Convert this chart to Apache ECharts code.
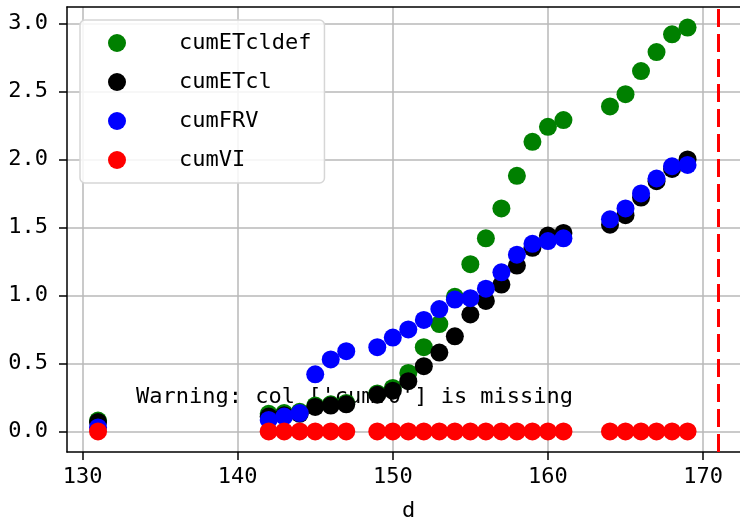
<!DOCTYPE html>
<html>
<head>
<meta charset="utf-8">
<script src="https://cdn.jsdelivr.net/npm/echarts@6/dist/echarts.min.js"></script>
<style>
    html, body {margin: 0; padding: 0; background: #fff; overflow: hidden;}
    #main {width: 740px; height: 523px;}
</style>
</head>
<body>
<div id="main"></div>
<script>
// 数据
const days = [131, 142, 143, 144, 145, 146, 147, 149, 150, 151, 152, 153, 154, 155, 156, 157, 158, 159, 160, 161, 164, 165, 166, 167, 168, 169];
const cumETcldef = [0.08, 0.13, 0.135, 0.145, 0.19, 0.2, 0.21, 0.28, 0.32, 0.43, 0.62, 0.79, 0.99, 1.23, 1.42, 1.64, 1.88, 2.13, 2.24, 2.29, 2.39, 2.48, 2.65, 2.79, 2.92, 2.97];
const cumETcl = [0.07, 0.11, 0.12, 0.13, 0.18, 0.19, 0.2, 0.27, 0.3, 0.37, 0.48, 0.58, 0.7, 0.86, 0.96, 1.08, 1.22, 1.35, 1.44, 1.46, 1.52, 1.59, 1.72, 1.84, 1.93, 2.0];
const cumFRV = [0.03, 0.085, 0.11, 0.135, 0.42, 0.53, 0.59, 0.62, 0.69, 0.75, 0.82, 0.9, 0.97, 0.98, 1.05, 1.17, 1.3, 1.38, 1.4, 1.42, 1.56, 1.64, 1.75, 1.86, 1.95, 1.96];
const cumVI = [0, 0, 0, 0, 0, 0, 0, 0, 0, 0, 0, 0, 0, 0, 0, 0, 0, 0, 0, 0, 0, 0, 0, 0, 0, 0];
const xTicks = [130, 140, 150, 160, 170];
const yTicks = [0, 0.5, 1.0, 1.5, 2.0, 2.5, 3.0];
const cutoffDay = 171;
const warningText = "Warning: col ['cumV0'] is missing";

const FONT = 'DejaVu Sans Mono';
const X_MIN = 129, X_MAX = 172.38;

const pairs = (ys) => days.map((d, i) => [d, ys[i]]);

const makeSeries = (name, ys, color) => ({
    name: name,
    type: 'scatter',
    symbolSize: 18,
    itemStyle: {color: color, opacity: 1},
    data: pairs(ys)
});

const seriesList = [
    makeSeries('cumETcldef', cumETcldef, '#008000'),
    makeSeries('cumETcl', cumETcl, '#000000'),
    makeSeries('cumFRV', cumFRV, '#0000ff'),
    makeSeries('cumVI', cumVI, '#ff0000')
];
// 红色竖虚线
seriesList[3].markLine = {
    silent: true, symbol: 'none', label: {show: false},
    lineStyle: {color: '#ff0000', type: [18, 7], width: 3},
    data: [{xAxis: cutoffDay}]
};

const chart = echarts.init(document.getElementById('main'));
chart.setOption({
    animation: false,
    // 警告文字放在点的下面
    title: {
        text: warningText, left: 131, top: 381, z: 1,
        textStyle: {fontFamily: FONT, fontSize: 22, fontWeight: 'normal', color: '#000'}
    },
    grid: {left: 67, top: 7, right: 0, bottom: 71, outerBoundsMode: 'none', show: false},
    legend: {
        orient: 'vertical', left: 80, top: 20,
        padding: [12, 13, 12, 28], itemWidth: 18, itemHeight: 18, itemGap: 17, icon: 'circle',
        backgroundColor: 'rgba(255,255,255,0.85)',
        borderColor: '#d6d6d6', borderWidth: 1.5, borderRadius: 5,
        textStyle: {fontFamily: FONT, fontSize: 22, color: '#000', padding: [0, 0, 0, 48]},
        data: ['cumETcldef', 'cumETcl', 'cumFRV', 'cumVI']
    },
    xAxis: [{
        type: 'value', min: X_MIN, max: X_MAX,
        name: 'd', nameLocation: 'middle', nameGap: 48,
        nameTextStyle: {fontFamily: FONT, fontSize: 22, color: '#000', padding: [0, 0, 0, 10]},
        axisLine: {onZero: false, lineStyle: {color: '#000', width: 1.5}},
        axisTick: {show: true, inside: false, length: 8, lineStyle: {color: '#000', width: 1.5}, customValues: xTicks},
        axisLabel: {fontFamily: FONT, fontSize: 22, color: '#000', margin: 14, customValues: xTicks},
        splitLine: {show: true, lineStyle: {color: '#b8b8b8', width: 1.5}}
    }, {
        // 上边框
        type: 'value', position: 'top', min: X_MIN, max: X_MAX,
        axisLine: {show: true, onZero: false, lineStyle: {color: '#000', width: 1.5}},
        axisTick: {show: false}, axisLabel: {show: false}, splitLine: {show: false}
    }],
    yAxis: {
        type: 'value', min: -0.151, max: 3.121,
        axisLine: {show: true, onZero: false, lineStyle: {color: '#000', width: 1.5}},
        axisTick: {show: true, inside: false, length: 8, lineStyle: {color: '#000', width: 1.5}, customValues: yTicks},
        axisLabel: {fontFamily: FONT, fontSize: 22, color: '#000', margin: 19, customValues: yTicks, formatter: v => v.toFixed(1)},
        splitLine: {show: true, lineStyle: {color: '#b8b8b8', width: 1.5}}
    },
    series: seriesList
});
</script>
</body>
</html>
